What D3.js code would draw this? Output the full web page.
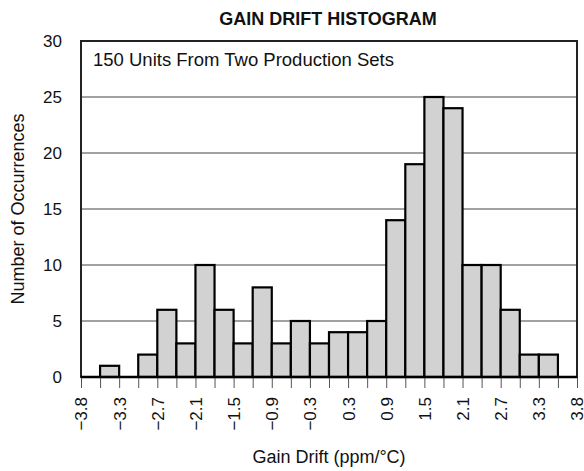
<!DOCTYPE html>
<html>
<head>
<meta charset="utf-8">
<script src="https://cdn.jsdelivr.net/npm/d3@7"></script>
<style>
  body { margin: 0; background: #fff; }
  text { font-family: "Liberation Sans", Arial, Helvetica, sans-serif; fill: #111; }
</style>
</head>
<body>
<svg id="chart" width="584" height="471"></svg>
<script>
// bin counts, one per 0.3 ppm/°C bin, left to right
var counts = [0, 1, 0, 2, 6, 3, 10, 6, 3, 8, 3, 5, 3, 4, 4, 5, 14, 19, 25, 24, 10, 10, 6, 2, 2, 0];
// labels on every other bin edge
var edgeLabels = ["-3.8", "-3.3", "-2.7", "-2.1", "-1.5", "-0.9", "-0.3", "0.3", "0.9", "1.5", "2.1", "2.7", "3.3", "3.8"];
var yTicks = [0, 5, 10, 15, 20, 25, 30];

var svg = d3.select("#chart"),
    plotLeft = 81, plotRight = 577, plotTop = 41, plotBottom = 377;

var x = d3.scaleLinear().domain([0, counts.length]).range([plotLeft, plotRight]);
var y = d3.scaleLinear().domain([0, 30]).range([plotBottom, plotTop]);

// title
svg.append("text")
    .attr("x", 328).attr("y", 25)
    .attr("text-anchor", "middle")
    .style("font-size", "18px").style("font-weight", "bold")
    .text("GAIN DRIFT HISTOGRAM");

// grid lines
svg.append("g").selectAll("line")
    .data(yTicks.filter(function(d) { return d > 0 && d < 30; }))
    .enter().append("line")
    .attr("x1", plotLeft).attr("x2", plotRight)
    .attr("y1", function(d) { return y(d); })
    .attr("y2", function(d) { return y(d); })
    .attr("stroke", "#444").attr("stroke-width", 1);

// bars
var bars = counts.map(function(c, i) { return {i: i, c: c}; }).filter(function(d) { return d.c > 0; });
svg.append("g").selectAll("rect")
    .data(bars)
    .enter().append("rect")
    .attr("x", function(d) { return x(d.i); })
    .attr("width", function(d) { return x(d.i + 1) - x(d.i); })
    .attr("y", function(d) { return y(d.c); })
    .attr("height", function(d) { return y(0) - y(d.c); })
    .attr("fill", "#d2d2d2")
    .attr("stroke", "#000").attr("stroke-width", 2.2);

// frame
svg.append("rect")
    .attr("x", plotLeft).attr("y", plotTop)
    .attr("width", plotRight - plotLeft).attr("height", plotBottom - plotTop)
    .attr("fill", "none").attr("stroke", "#222").attr("stroke-width", 2);

// baseline
svg.append("line")
    .attr("x1", plotLeft).attr("x2", plotRight)
    .attr("y1", plotBottom).attr("y2", plotBottom)
    .attr("stroke", "#000").attr("stroke-width", 2.5);

// x axis ticks at bin edges
var xAxis = d3.axisBottom(x)
    .tickValues(d3.range(0, counts.length + 1))
    .tickSize(10)
    .tickFormat(function(d) { return d % 2 == 0 ? edgeLabels[d / 2].replace("-", "\u2212") : ""; });

var gx = svg.append("g").attr("transform", "translate(0," + (plotBottom + 1) + ")").call(xAxis);
gx.select(".domain").remove();
gx.selectAll(".tick line").attr("stroke", "#555").attr("stroke-width", 1);
gx.selectAll(".tick text")
    .attr("transform", "rotate(-90)")
    .attr("text-anchor", "end")
    .attr("x", -19).attr("y", 0).attr("dy", "0.35em")
    .style("font-size", "17px")
    .style("font-family", "'Liberation Sans', Arial, sans-serif")
    .attr("fill", "#111");

// y axis labels
var yAxis = d3.axisLeft(y).tickValues(yTicks).tickSize(0).tickPadding(19);
var gy = svg.append("g").attr("transform", "translate(" + plotLeft + ",0)").call(yAxis);
gy.select(".domain").remove();
gy.selectAll(".tick text")
    .style("font-size", "17px")
    .style("font-family", "'Liberation Sans', Arial, sans-serif")
    .attr("fill", "#111");

// annotation
svg.append("text")
    .attr("x", 93).attr("y", 66)
    .style("font-size", "18.5px")
    .text("150 Units From Two Production Sets");

// axis titles
svg.append("text")
    .attr("transform", "translate(24," + ((plotTop + plotBottom) / 2) + ") rotate(-90)")
    .attr("text-anchor", "middle")
    .style("font-size", "18px")
    .text("Number of Occurrences");

svg.append("text")
    .attr("x", 329).attr("y", 463)
    .attr("text-anchor", "middle")
    .style("font-size", "18px")
    .text("Gain Drift (ppm/\u00b0C)");
</script>
</body>
</html>
